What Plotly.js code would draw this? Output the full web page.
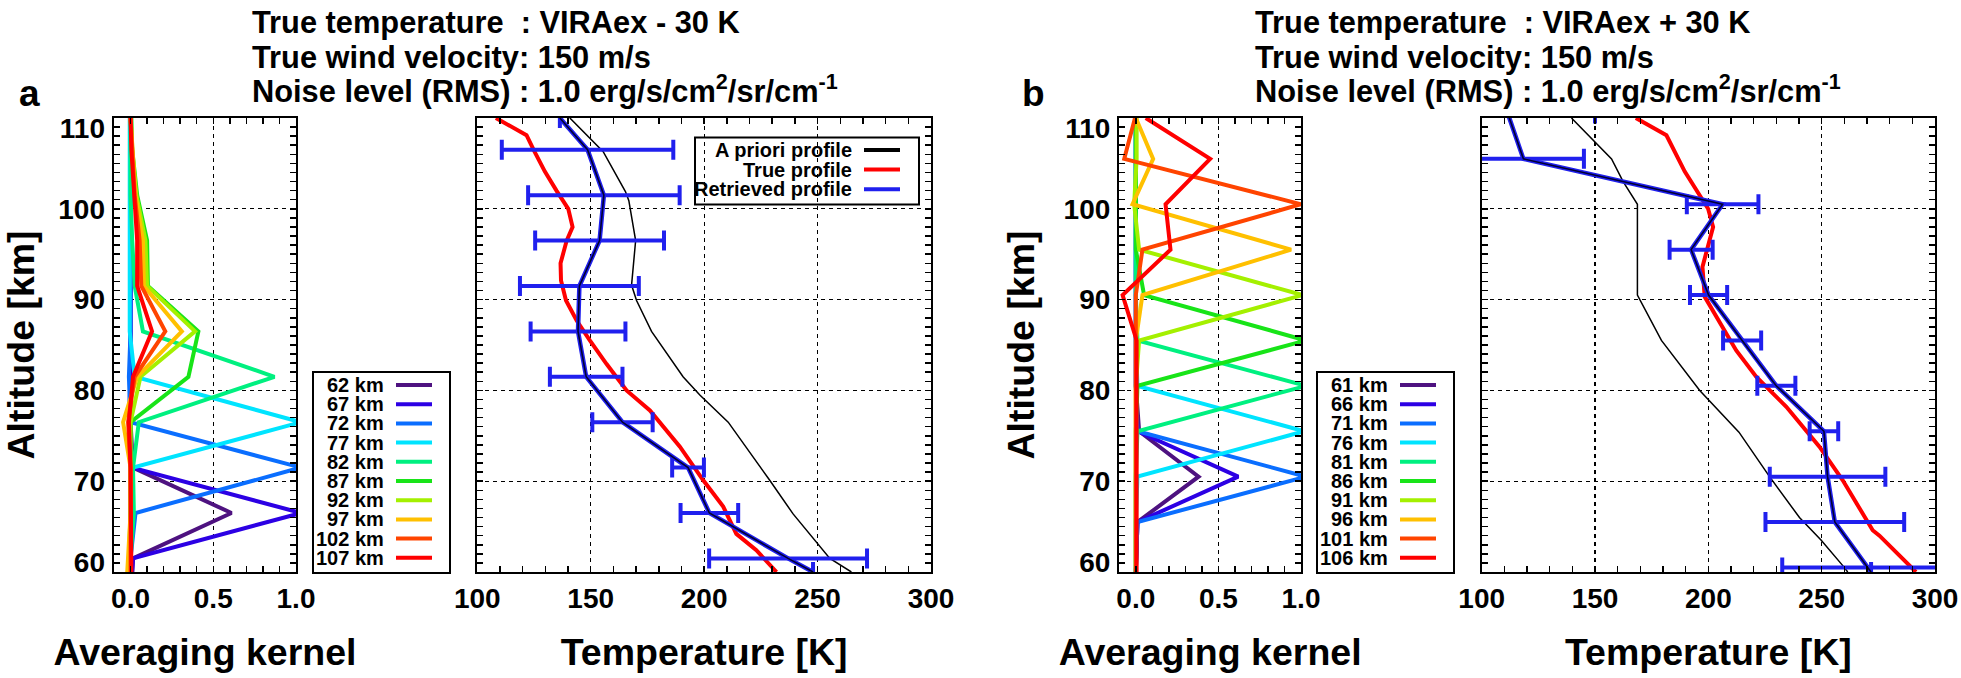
<!DOCTYPE html>
<html><head><meta charset="utf-8">
<script src="https://cdn.plot.ly/plotly-3.0.1.min.js"></script>
<style>html,body{margin:0;padding:0;background:#fff}#chart{width:1961px;height:678px}</style>
</head><body><div id="chart"></div>
<script>
// ---------------- DATA ----------------
const akAltA = [60, 61.5, 66.5, 71.5, 76.5, 81.5, 86.5, 91.5, 96.5, 101.5, 106.5, 110];
const akLabelsA = ['62 km','67 km','72 km','77 km','82 km','87 km','92 km','97 km','102 km','107 km'];
const akA62  = [0.01, 0.015, 0.61, 0.015, 0, 0, 0, 0, 0, 0, 0, 0];
const akA67  = [0.01, 0.015, 1.03, 0.01, -0.01, 0, 0, 0, 0, 0, 0, 0];
const akA72  = [0, 0, 0.03, 1.03, 0, -0.01, 0, 0, 0, 0, 0, 0];
const akA77  = [0, 0, 0, 0.015, 1.03, 0.025, -0.005, -0.005, -0.005, -0.005, -0.005, -0.005];
const akA82  = [0, 0, 0.02, 0.015, 0.05, 0.87, 0.075, 0.025, 0.01, 0, 0, 0];
const akA87  = [-0.01, -0.01, 0, 0, 0, 0.35, 0.41, 0.105, 0.10, 0.04, 0.01, 0.005];
const akA92  = [-0.01, -0.005, 0, 0, 0, 0.06, 0.39, 0.10, 0.09, 0.035, 0.01, 0];
const akA97  = [-0.02, -0.015, 0, 0, -0.045, 0.04, 0.31, 0.08, 0.075, 0.03, 0.01, 0];
const akA102 = [0, 0, 0, 0, -0.015, 0.025, 0.21, 0.065, 0.055, 0.025, 0.01, 0];
const akA107 = [0.005, 0.005, 0, 0, -0.01, 0.015, 0.13, 0.04, 0.04, 0.02, 0.005, 0];

const akAltB = [60, 65.5, 70.5, 75.5, 80.5, 85.5, 90.5, 95.5, 100.5, 105.5, 110];
const akLabelsB = ['61 km','66 km','71 km','76 km','81 km','86 km','91 km','96 km','101 km','106 km'];
const akB61  = [0, 0.01, 0.38, 0.02, 0, 0, 0, 0, 0, 0, 0];
const akB66  = [0, 0.01, 0.62, 0.01, 0, 0, 0, 0, 0, 0, 0];
const akB71  = [0, 0.01, 1.03, 0.01, 0, 0, 0, 0, 0, 0, 0];
const akB76  = [0, 0, 0.01, 1.02, 0.01, 0, 0, 0, 0, 0, 0];
const akB81  = [0, 0, 0, 0.01, 1.03, 0.01, 0, 0, 0, 0, 0];
const akB86  = [0, 0, 0, 0, 0.01, 1.03, 0.05, 0, 0, 0, 0];
const akB91  = [0, 0, 0, 0, 0, 0.02, 1.01, 0.02, -0.01, 0.005, 0.005];
const akB96  = [0, 0, 0, 0, 0, 0, 0.04, 0.94, -0.02, 0.105, 0.0];
const akB101 = [0, 0, 0, 0, 0, 0, 0, 0.04, 1.0, -0.07, -0.005];
const akB106 = [0.005, 0.005, 0.005, 0.005, 0.005, 0.005, -0.08, 0.21, 0.18, 0.45, 0.06];

const kernelColors = ['#4e1280','#2c00e4','#0a6eff','#00e4ff','#00f080','#18e418','#a4f000','#ffc000','#ff4400','#ff0000'];

const aprAltA  = [60, 61.5, 66.4, 70.1, 76.5, 79.5, 81.5, 86.5, 89.9, 91.6, 96.5, 100.9, 101.9, 106.3, 110];
const aprTempA = [264.9, 255.4, 239.2, 228.9, 210.6, 198.1, 190.7, 176.8, 170.2, 168.0, 169.8, 166.8, 165.3, 155.5, 140.8];
const trueAltA  = [110, 108.1, 106.4, 104.1, 102, 100, 98, 96.5, 94, 92.1, 89.9, 87.7, 85.5, 82.9, 80, 77.8, 73.8, 70.1, 67.2, 64.2, 62.4, 60];
const trueTempA = [108.2, 121.7, 125, 129.8, 134.9, 140.1, 142, 139.4, 136.7, 136.9, 139.1, 143.8, 149.6, 157, 165.8, 176.1, 189.3, 199.6, 208.4, 214.2, 223, 231.9];
const retAltA  = [60, 61.5, 66.5, 71.5, 76.5, 81.5, 86.5, 91.5, 96.5, 101.5, 106.5, 110];
const retTempA = [248, 237, 202.3, 192.9, 164, 148, 144.4, 145, 153.9, 155.8, 148.6, 136.4];
const retErrA  = [null, 34.8, 12.7, 7.0, 13.3, 16.0, 20.9, 26.2, 28.4, 33.4, 37.8, null];

const aprAltB  = [60, 60.7, 63.5, 66, 70.5, 75.4, 80, 85.5, 90.5, 100.5, 103, 105.5, 110];
const aprTempB = [261.5, 259.3, 249.8, 240.2, 227, 213.5, 196.2, 179.3, 168.7, 168.7, 162.4, 157.3, 139.6];
const trueAltB  = [110, 108.1, 104.1, 100, 98, 95.8, 93.6, 90.3, 88.1, 84.4, 81.5, 78.2, 73.8, 70.1, 64.6, 64, 60];
const trueTempB = [168, 181.5, 189.6, 199.9, 202.1, 199.9, 197.4, 198.4, 203.5, 212.3, 221.1, 234.4, 249, 259.3, 272.5, 275.5, 291.6];
const retAltB  = [60, 60.5, 65.5, 70.5, 75.5, 80.5, 85.5, 90.5, 95.5, 100.5, 105.5, 110.5];
const retTempB = [271.8, 270.3, 255.8, 252.6, 251.0, 230.0, 214.9, 200.1, 192.4, 206.3, 118.4, 111.5];
const retErrB  = [null, 37.7, 30.6, 25.5, 6.3, 8.4, 8.4, 8.2, 9.5, 15.8, 26.7, 38.5];

const profileLabels = ['A priori profile', 'True profile', 'Retrieved profile'];
const profileColors = ['#000000', '#ff0000', '#2020ee'];

const altTickText = ['60', '70', '80', '90', '100', '110'];
const altTickPos  = [61.1, 70, 80, 90, 100, 108.9];

const headerA = ['True temperature  : VIRAex - 30 K', 'True wind velocity: 150 m/s', 'Noise level (RMS) : 1.0 erg/s/cm<sup>2</sup>/sr/cm<sup>-1</sup>'];
const headerB = ['True temperature  : VIRAex + 30 K', 'True wind velocity: 150 m/s', 'Noise level (RMS) : 1.0 erg/s/cm<sup>2</sup>/sr/cm<sup>-1</sup>'];

// ---------------- LAYOUT HELPERS ----------------
const W = 1961, H = 678;
const px = x => x / W;
const py = y => 1 - y / H;
const FONT = 'Liberation Sans, Arial, sans-serif';

const traces = [];
function addKernels(alt, arrays, xa, ya) {
  arrays.forEach((arr, i) => traces.push({
    type: 'scatter', mode: 'lines', x: arr, y: alt, xaxis: xa, yaxis: ya,
    line: {color: kernelColors[i], width: 4}, showlegend: false, hoverinfo: 'skip'
  }));
}
addKernels(akAltA, [akA62, akA67, akA72, akA77, akA82, akA87, akA92, akA97, akA102, akA107], 'x', 'y');
addKernels(akAltB, [akB61, akB66, akB71, akB76, akB81, akB86, akB91, akB96, akB101, akB106], 'x3', 'y3');

function addProfiles(aprT, aprA, trT, trA, rT, rA, rE, xa, ya) {
  traces.push({type:'scatter', mode:'lines', x: trT, y: trA, xaxis: xa, yaxis: ya,
    line:{color: profileColors[1], width:4}, showlegend:false});
  traces.push({type:'scatter', mode:'lines', x: aprT, y: aprA, xaxis: xa, yaxis: ya,
    line:{color: profileColors[0], width:1.5}, showlegend:false});
  traces.push({type:'scatter', mode:'lines', x: rT, y: rA, xaxis: xa, yaxis: ya,
    line:{color: profileColors[2], width:4.5}, showlegend:false,
    error_x:{type:'data', array: rE, visible:true, color: profileColors[2], thickness:4, width:10}});
  traces.push({type:'scatter', mode:'lines', x: rT, y: rA, xaxis: xa, yaxis: ya,
    line:{color:'#000033', width:1.6}, showlegend:false});
}
addProfiles(aprTempA, aprAltA, trueTempA, trueAltA, retTempA, retAltA, retErrA, 'x2', 'y2');
addProfiles(aprTempB, aprAltB, trueTempB, trueAltB, retTempB, retAltB, retErrB, 'x4', 'y4');

// empty traces so that the altitude label axes get drawn
traces.push({type:'scatter', mode:'lines', x: [], y: [], xaxis:'x', yaxis:'y5', showlegend:false, hoverinfo:'skip'});
traces.push({type:'scatter', mode:'lines', x: [], y: [], xaxis:'x3', yaxis:'y6', showlegend:false, hoverinfo:'skip'});

const tickFont = {family: FONT, size: 28, color: '#000', weight: 'bold'};
const titleFont = {family: FONT, size: 37.5, color: '#000', weight: 'bold'};
const minorStyle = {ticks: 'inside', ticklen: 6, tickwidth: 1.5, tickcolor: '#000', showgrid: false};
function axis(extra) {
  return Object.assign({
    showline: true, linecolor: '#000', linewidth: 2, mirror: 'allticks',
    ticks: 'inside', ticklen: 6, tickwidth: 1.5, tickcolor: '#000',
    showgrid: true, gridcolor: '#000', gridwidth: 1.3, griddash: '4px,4px',
    zeroline: false, tickfont: tickFont, fixedrange: true
  }, extra);
}
const yDom = [py(572), py(118)];
function labelAxis(over, anchor) {
  return {
    overlaying: over, anchor: anchor, side: 'left', domain: yDom, range: [60, 110],
    tickmode: 'array', tickvals: altTickPos, ticktext: altTickText,
    showline: false, showgrid: false, zeroline: false, ticks: '', tickfont: tickFont,
    ticklabelstandoff: 8, fixedrange: true,
    title: {text: 'Altitude [km]', font: titleFont, standoff: 17}
  };
}
const layout = {
  width: W, height: H, margin: {l:0, r:0, t:0, b:0},
  paper_bgcolor: '#fff', plot_bgcolor: '#fff', showlegend: false,
  font: {family: FONT, color: '#000'},
  xaxis:  axis({domain:[px(114), px(296)], range:[-0.1, 1.0], tick0:0, dtick:0.5, tickformat:'.1f', anchor:'y',
    minor: Object.assign({dtick:0.1}, minorStyle),
    title:{text:'Averaging kernel', font:titleFont, standoff: 26}}),
  yaxis:  axis({domain: yDom, range:[60, 110], dtick:10, anchor:'x', showticklabels:false,
    minor: Object.assign({dtick:1}, minorStyle)}),
  xaxis2: axis({domain:[px(477.3), px(931)], range:[100, 300], dtick:50, anchor:'y2',
    minor: Object.assign({dtick:10}, minorStyle),
    title:{text:'Temperature [K]', font:titleFont, standoff: 26}}),
  yaxis2: axis({domain: yDom, range:[60, 110], dtick:10, anchor:'x2', showticklabels:false,
    minor: Object.assign({dtick:1}, minorStyle)}),
  xaxis3: axis({domain:[px(1119.3), px(1301)], range:[-0.1, 1.0], tick0:0, dtick:0.5, tickformat:'.1f', anchor:'y3',
    minor: Object.assign({dtick:0.1}, minorStyle),
    title:{text:'Averaging kernel', font:titleFont, standoff: 26}}),
  yaxis3: axis({domain: yDom, range:[60, 110], dtick:10, anchor:'x3', showticklabels:false,
    minor: Object.assign({dtick:1}, minorStyle)}),
  xaxis4: axis({domain:[px(1481.7), px(1935)], range:[100, 300], dtick:50, anchor:'y4',
    minor: Object.assign({dtick:10}, minorStyle),
    title:{text:'Temperature [K]', font:titleFont, standoff: 26}}),
  yaxis4: axis({domain: yDom, range:[60, 110], dtick:10, anchor:'x4', showticklabels:false,
    minor: Object.assign({dtick:1}, minorStyle)}),
  yaxis5: labelAxis('y', 'x'),
  yaxis6: labelAxis('y3', 'x3'),
  annotations: [], shapes: []
};

// headers
const headFont = {family: FONT, size: 30.8, color: '#000', weight: 'bold'};
const headBottoms = [40, 75, 109];
function addHeader(lines, xLeft) {
  lines.forEach((t, i) => layout.annotations.push({
    xref:'paper', yref:'paper', x: px(xLeft), y: py(headBottoms[i]), xanchor:'left', yanchor:'bottom',
    text: t, showarrow:false, font: headFont, borderpad:0, borderwidth:0
  }));
}
addHeader(headerA, 252);
addHeader(headerB, 1255);

[['a', 19], ['b', 1022]].forEach(([t, x]) => layout.annotations.push({
  xref:'paper', yref:'paper', x: px(x), y: py(114), xanchor:'left', yanchor:'bottom',
  text: t, showarrow:false, font:{family: FONT, size: 37, color:'#000', weight:'bold'}, borderpad:0, borderwidth:0
}));

const legFont = {family: FONT, size: 20, color: '#000', weight: 'bold'};
function kernelLegend(labels, box, textRight, lineX0, lineX1) {
  layout.shapes.push({type:'rect', xref:'paper', yref:'paper', x0: px(box[0]), x1: px(box[1]), y0: py(box[2]), y1: py(box[3]),
    line:{color:'#000', width:2}, fillcolor:'rgba(0,0,0,0)'});
  labels.forEach((lab, i) => {
    const yc = 385 + i * 19.2;
    layout.annotations.push({xref:'paper', yref:'paper', x: px(textRight), y: py(yc), xanchor:'right', yanchor:'middle',
      text: lab, showarrow:false, font: legFont, borderpad:0, borderwidth:0});
    layout.shapes.push({type:'line', xref:'paper', yref:'paper', x0: px(lineX0), x1: px(lineX1), y0: py(yc), y1: py(yc),
      line:{color: kernelColors[i], width:4}});
  });
}
kernelLegend(akLabelsA, [313, 450, 372, 573], 384, 396, 432);
kernelLegend(akLabelsB, [1317, 1454, 372, 573], 1388, 1400, 1436);

layout.shapes.push({type:'rect', xref:'paper', yref:'paper', x0: px(695), x1: px(919), y0: py(137.5), y1: py(204.5),
  line:{color:'#000', width:2}, fillcolor:'rgba(0,0,0,0)'});
profileLabels.forEach((lab, i) => {
  const yc = 150 + i * 19.6;
  layout.annotations.push({xref:'paper', yref:'paper', x: px(852), y: py(yc), xanchor:'right', yanchor:'middle',
    text: lab, showarrow:false, font: legFont, borderpad:0, borderwidth:0});
  layout.shapes.push({type:'line', xref:'paper', yref:'paper', x0: px(864), x1: px(900), y0: py(yc), y1: py(yc),
    line:{color: profileColors[i], width:4}});
});

Plotly.newPlot('chart', traces, layout, {staticPlot: true, displayModeBar: false});
</script></body></html>
